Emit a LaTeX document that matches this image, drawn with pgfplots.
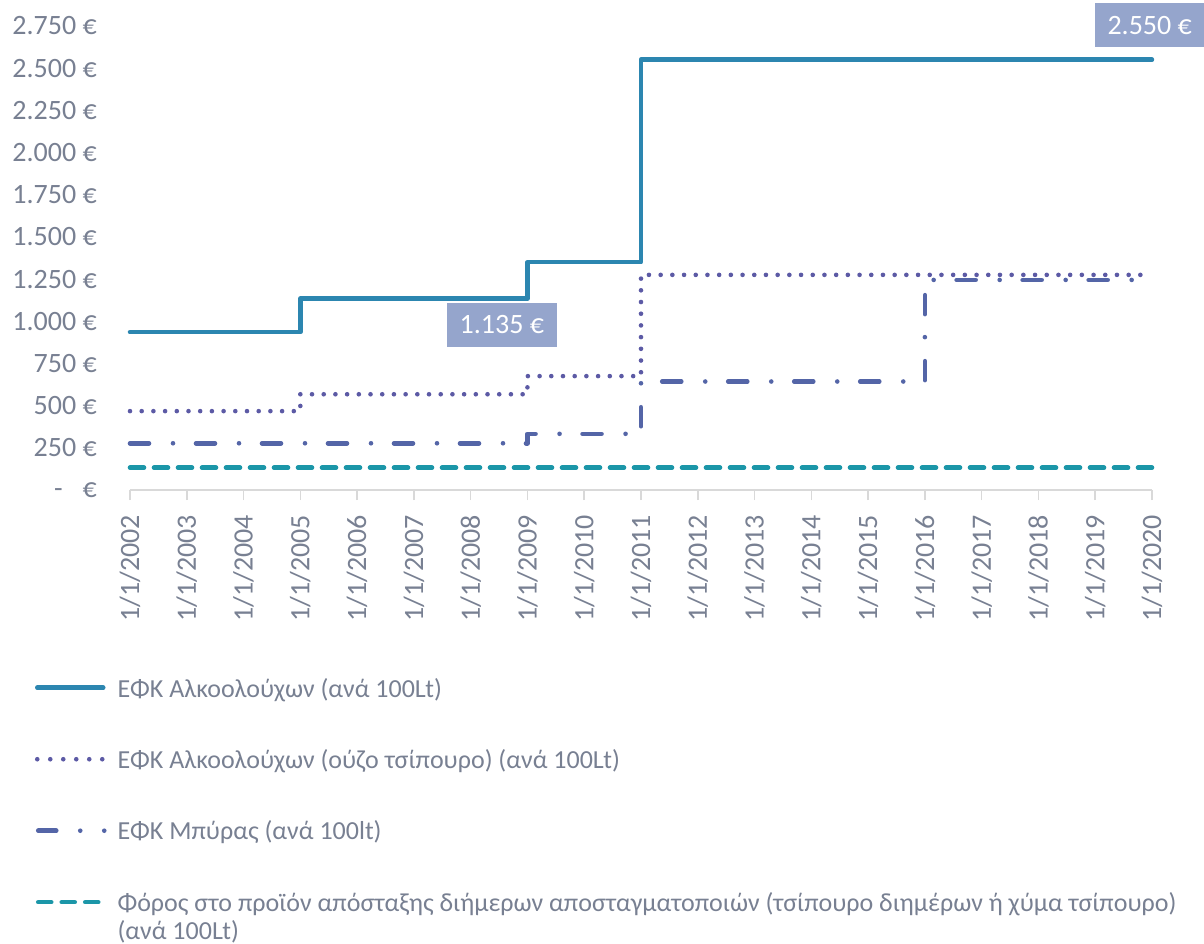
\documentclass[border=0pt]{standalone}
\usepackage{pgfplots}
\pgfplotsset{compat=1.18}
\usepackage{fontspec}
\setmainfont{Carlito}
\definecolor{cSolid}{RGB}{44,134,176}
\definecolor{cDot}{RGB}{92,90,165}
\definecolor{cBeer}{RGB}{84,101,167}
\definecolor{cTeal}{RGB}{27,150,168}
\definecolor{cText}{RGB}{120,128,146}
\definecolor{cBox}{RGB}{149,165,204}
\definecolor{cAxis}{RGB}{217,217,217}
\newcommand{\ff}{\fontsize{28bp}{32bp}\selectfont}
\newcommand{\lf}{\fontsize{26bp}{32bp}\selectfont}
\begin{document}
\begin{tikzpicture}
\useasboundingbox (-130bp,-454bp) rectangle (1074bp,490bp);
\begin{axis}[
  scale only axis, width=1022bp, height=464bp,
  xmin=2002, xmax=2020, ymin=0, ymax=2750,
  clip=false,
  axis x line*=bottom, axis y line*=left,
  x axis line style={draw=cAxis, line width=1.5bp, -},
  y axis line style={draw=none},
  xtick={2002,2003,...,2020},
  xticklabels={1/1/2002,1/1/2003,1/1/2004,1/1/2005,1/1/2006,1/1/2007,1/1/2008,1/1/2009,1/1/2010,1/1/2011,1/1/2012,1/1/2013,1/1/2014,1/1/2015,1/1/2016,1/1/2017,1/1/2018,1/1/2019,1/1/2020},
  ytick={0,250,...,2750},
  yticklabels={{-\hspace{20bp}€},250 €,500 €,750 €,1.000 €,1.250 €,1.500 €,1.750 €,2.000 €,2.250 €,2.500 €,2.750 €},
  tick align=outside,
  major tick length=10bp,
  xtick style={draw=cAxis, line width=1.5bp},
  ytick style={draw=none},
  every tick label/.append style={font=\ff, text=cText},
  xticklabel style={rotate=90, anchor=east, inner xsep=15bp, inner ysep=0pt},
  yticklabel style={anchor=east, inner sep=0pt, xshift=-23bp},
  legend style={at={(-0.093,-0.3987)}, anchor=north west, draw=none, fill=none,
    inner sep=0pt, outer sep=0pt, row sep=46bp, column sep=8bp, font=\lf, text=cText,
    cells={anchor=west, inner xsep=0pt, inner ysep=0pt, text height=20bp, text depth=6bp}},
  legend cell align=left,
]
\addplot[const plot, cSolid, line width=4.5bp, line cap=round, line join=round,
  legend image code/.code={\draw[cSolid, line width=4.5bp, line cap=round] (2bp,0bp) -- (68bp,0bp);}]
  coordinates {(2002,935) (2005,1135) (2009,1350) (2011,2550) (2020,2550)};
\addlegendentry{ΕΦΚ Αλκοολούχων (ανά 100Lt)}
\addplot[const plot, cDot, line width=4.6bp, line cap=round, line join=round, dash pattern=on 0bp off 11.7bp,
  legend image code/.code={\draw[cDot, line width=4.6bp, line cap=round, dash pattern=on 0bp off 13bp] (2bp,0bp) -- (68bp,0bp);}]
  coordinates {(2002,467.5) (2005,567.5) (2009,675) (2011,1275) (2020,1275)};
\addlegendentry{ΕΦΚ Αλκοολούχων (ούζο τσίπουρο) (ανά 100Lt)}
\addplot[const plot, cBeer, line width=4.6bp, line cap=round, line join=round, dash pattern=on 19bp off 24bp on 0bp off 23bp,
  legend image code/.code={\draw[cBeer, line width=4.6bp, line cap=round, dash pattern=on 18bp off 24bp on 0bp off 24bp on 0bp off 100bp] (3bp,0bp) -- (70bp,0bp);}]
  coordinates {(2002,277) (2009,333) (2011,643) (2016,1245) (2020,1245)};
\addlegendentry{ΕΦΚ Μπύρας (ανά 100lt)}
\addplot[const plot, cTeal, line width=4.6bp, line cap=round, line join=round, dash pattern=on 14bp off 10bp,
  legend image code/.code={\draw[cTeal, line width=4.6bp, line cap=round, dash pattern=on 13bp off 10.5bp] (3bp,0bp) -- (66bp,0bp);}]
  coordinates {(2002,132) (2020,132)};
\addlegendentry{\lf\baselineskip=32bp\begin{tabular}[t]{@{}l@{}}Φόρος στο προϊόν απόσταξης διήμερων αποσταγματοποιών (τσίπουρο διημέρων ή χύμα τσίπουρο)\\[-4bp](ανά 100Lt)\end{tabular}}
\node[fill=cBox, text=white, font=\ff, minimum height=44bp, inner xsep=13bp, inner ysep=0pt] at (axis cs:2008.55,978) {1.135 €};
\node[fill=cBox, text=white, font=\ff, minimum height=44bp, inner xsep=13bp, inner ysep=0pt] at (axis cs:2019.96,2753) {2.550 €};
\end{axis}
\end{tikzpicture}
\end{document}
